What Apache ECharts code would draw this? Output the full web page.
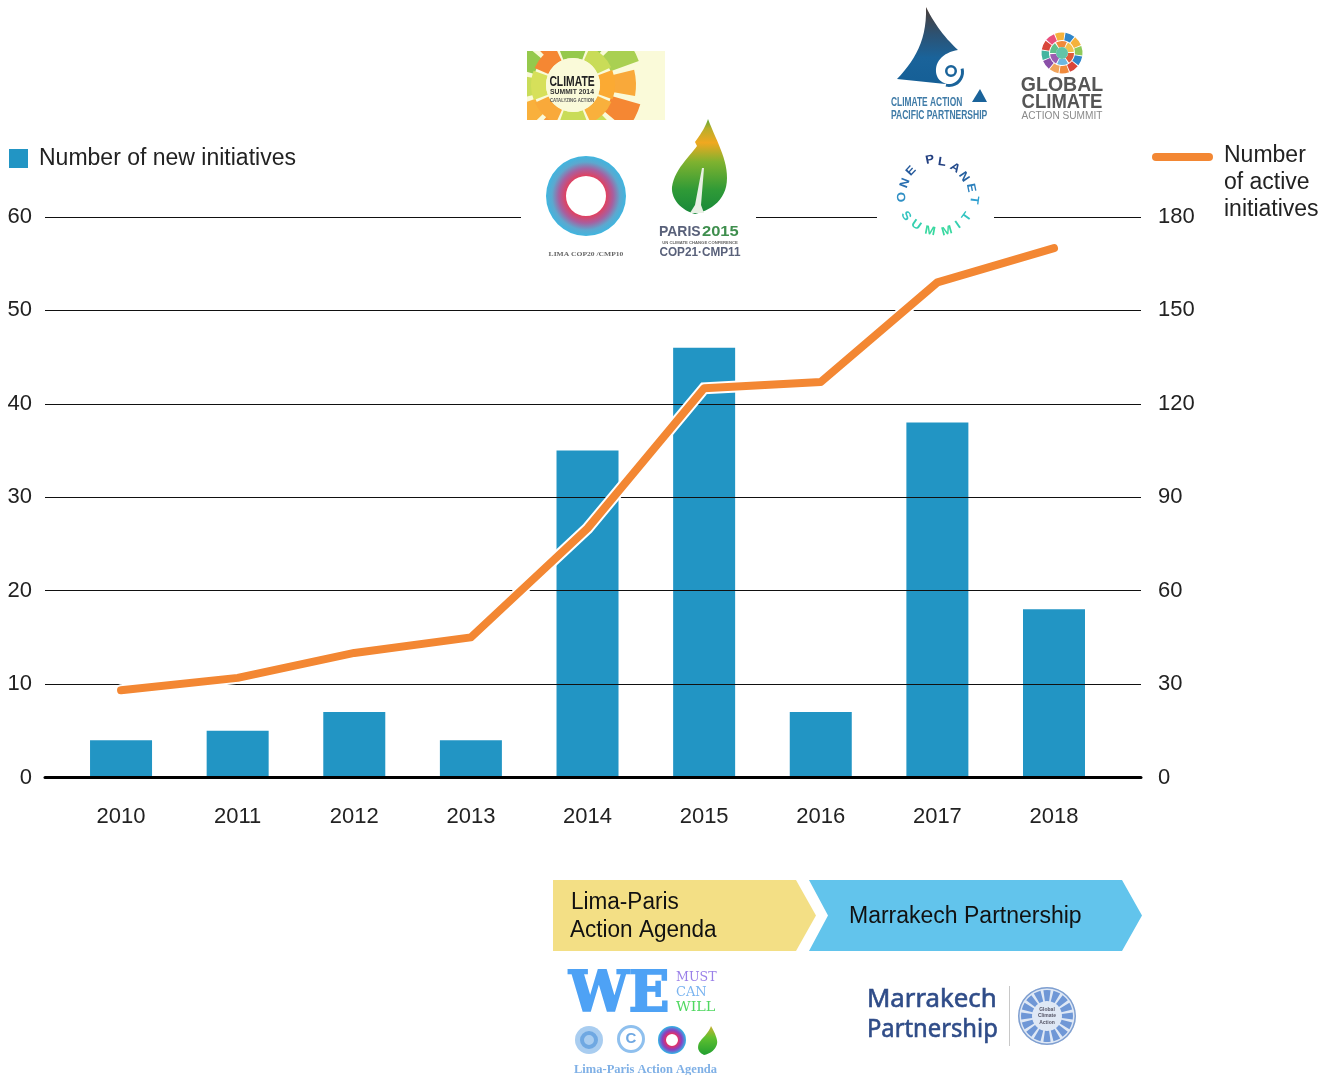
<!DOCTYPE html>
<html>
<head>
<meta charset="utf-8">
<style>
html, body { margin: 0; padding: 0; background: #fff; }
#main { width: 1323px; height: 1075px; }
</style>
<script src="https://cdn.jsdelivr.net/npm/echarts@6/dist/echarts.min.js"></script>
</head>
<body>
<div id="main"></div>
<script>
var years = [2010, 2011, 2012, 2013, 2014, 2015, 2016, 2017, 2018];
var newInitiatives = [4, 5, 7, 4, 35, 46, 7, 38, 18];
var activeInitiatives = [28, 32, 40, 45, 80, 125, 127, 159, 170];

var barName = 'Number of new initiatives';
var lineName = 'Number of active initiatives';
var FONT = '"Liberation Sans", Arial, sans-serif';
var SERIF = '"Liberation Serif", serif';
var SLAB = '"DejaVu Serif", serif';

function pairs(values) {
    return values.map(function (v, i) { return [years[i], v]; });
}

// --- helpers for the logos, all of them are plain graphic elements
var logos = [];
function add(type, shape, style, extra) {
    var el = { type: type, shape: shape, style: style, silent: true, z: 10 };
    for (var k in (extra || {})) { el[k] = extra[k]; }
    logos.push(el);
}
function rect(x, y, w, h, fill, r) {
    add('rect', { x: x, y: y, width: w, height: h, r: r || 0 }, { fill: fill });
}
function poly(points, fill, extra) {
    add('polygon', { points: points }, { fill: fill }, extra);
}
function txt(s, x, y, font, fill, align, scaleX, rotation) {
    logos.push({
        type: 'text', x: x, y: y, scaleX: scaleX || 1, scaleY: 1, rotation: rotation || 0,
        silent: true, z: 10,
        style: {
            text: s, font: font, fill: fill,
            align: align || 'center', verticalAlign: 'middle',
            textAlign: align || 'center', textVerticalAlign: 'middle'
        }
    });
}
// fattens the text that was added last
function thicken(color, width) {
    var st = logos[logos.length - 1].style;
    st.stroke = color;
    st.lineWidth = width;
}
function sector(cx, cy, r0, r, a0, a1, fill) {
    add('sector', {
        cx: cx, cy: cy, r0: r0, r: r,
        startAngle: a0 * Math.PI / 180, endAngle: a1 * Math.PI / 180, clockwise: true
    }, { fill: fill });
}
function ring(cx, cy, r0, r, fill) {
    add('ring', { cx: cx, cy: cy, r0: r0, r: r }, { fill: fill });
}
function circle(cx, cy, r, fill) {
    add('circle', { cx: cx, cy: cy, r: r }, { fill: fill });
}
// samples cubic segments into polygon points: start, then [c1x,c1y,c2x,c2y,x,y] ...
function curve(start, segs) {
    var pts = [start], p = start;
    segs.forEach(function (s) {
        if (s.length === 2) { pts.push(s); p = s; return; }
        for (var i = 1; i <= 14; i++) {
            var t = i / 14, u = 1 - t;
            pts.push([
                u * u * u * p[0] + 3 * u * u * t * s[0] + 3 * u * t * t * s[2] + t * t * t * s[4],
                u * u * u * p[1] + 3 * u * u * t * s[1] + 3 * u * t * t * s[3] + t * t * t * s[5]
            ]);
        }
        p = [s[4], s[5]];
    });
    return pts;
}
function vgrad(stops) {
    return new echarts.graphic.LinearGradient(0, 0, 0, 1, stops.map(function (s) {
        return { offset: s[0], color: s[1] };
    }));
}

// gaps in the top grid line behind the logos
rect(521, 213, 235, 8, '#fff');
rect(877, 213, 117, 8, '#fff');

// Climate Summit 2014
rect(527, 51, 138, 69, '#fafad9');
var csOuter = ['#f9a93a', '#f58733', '#c9dc58', '#a9d052', '#f79a3a', '#f9b03c', '#c9dc58', '#95c94c', '#f58733', '#d6e05a', '#95c94c', '#a9d052'];
csOuter.forEach(function (c, i) {
    sector(573, 85, 40, i % 2 ? 70 : 63, i * 30 - 14, i * 30 + 10, c);
});
var csInner = ['#fbaa33', '#f9b03c', '#c9dc58', '#f9a93a', '#d6e05a', '#f58733', '#95c94c', '#c9dc58'];
csInner.forEach(function (c, i) {
    sector(573, 85, 27, 42, i * 45 - 21, i * 45 + 20, c);
});
circle(573, 85, 27, '#fafad9');
rect(480, 0, 47, 175, '#fff');
rect(480, 0, 230, 51, '#fff');
rect(480, 120, 230, 40, '#fff');
txt('CLIMATE', 572, 82, 'bold 15px ' + FONT, '#222', 'center', 0.69);
txt('SUMMIT 2014', 572, 92, 'bold 8px ' + FONT, '#333', 'center', 0.85);
txt('CATALYZING ACTION', 572, 101, 'bold 4.5px ' + FONT, '#555', 'center', 0.95);

// Lima COP20
add('ring', { cx: 586, cy: 196, r0: 20, r: 40 }, {
    fill: new echarts.graphic.RadialGradient(0.5, 0.5, 0.5, [
        { offset: 0.5, color: '#e2405f' },
        { offset: 0.68, color: '#a85f9f' },
        { offset: 0.85, color: '#5ca8cf' },
        { offset: 1, color: '#3fb6e0' }
    ])
});
txt('LIMA COP20 /CMP10', 586, 254, 'bold 7px ' + SERIF, '#666', 'center', 1.08);

// Paris 2015 leaf
poly(curve([708, 119], [
    [716, 140, 727, 158, 727, 178],
    [727, 199, 712, 210, 695, 214],
    [680, 210, 671, 198, 672, 187],
    [674, 170, 690, 156, 697, 146],
    [695, 142],
    [700, 135, 705, 128, 708, 119]
]), vgrad([[0, '#5aa838'], [0.1, '#b8ae2a'], [0.25, '#f0a820'], [0.45, '#7fb22f'], [0.75, '#2f9a37'], [1, '#17883a']]));
poly([[702, 168], [704, 168], [701, 205], [704, 213], [690, 213], [695, 205]], '#e8f0e4');
txt('PARIS', 659, 232, 'bold 15px ' + FONT, '#59617a', 'left', 0.93);
txt('2015', 702, 232, 'bold 15px ' + FONT, '#3f8f4e', 'left', 1.1);
txt('UN CLIMATE CHANGE CONFERENCE', 700, 243, 'bold 4px ' + FONT, '#666', 'center', 1.05);
txt('COP21\u00b7CMP11', 700, 253, 'bold 12px ' + FONT, '#59617a', 'center', 0.98);

// Climate Action Pacific Partnership
poly(curve([926, 7], [
    [935, 25, 945, 38, 958, 50],
    [945, 52, 935, 60, 936, 72],
    [937, 82, 946, 85, 955, 85],
    [897, 79],
    [915, 60, 927, 40, 926, 7]
]), vgrad([[0, '#4a3d38'], [0.35, '#2c5273'], [0.65, '#1a639a'], [1, '#155f96']]));
add('arc', { cx: 949, cy: 72, r: 13.5, startAngle: -0.25, endAngle: 1.8, clockwise: true },
    { stroke: '#1a639a', lineWidth: 3, fill: null });
ring(951, 71, 3.5, 6, '#1a639a');
poly([[980, 89], [987, 102], [972, 102]], '#1a639a');
txt('CLIMATE ACTION', 891, 103, 'bold 12px ' + FONT, '#3f7ba7', 'left', 0.7);
txt('PACIFIC PARTNERSHIP', 891, 116, 'bold 12px ' + FONT, '#3f7ba7', 'left', 0.71);

// Global Climate Action Summit
var globeOut = ['#2f86c9', '#f4b23c', '#8fc95a', '#2f86c9', '#d8463a', '#f08a3c', '#f0a45c', '#8a4fa8', '#43b5a0', '#d8463a', '#e94f7c', '#f4b23c'];
globeOut.forEach(function (c, i) {
    sector(1062, 53, 13, 20.5, i * 30 - 80, i * 30 - 53, c);
});
var globeIn = ['#f4c14c', '#e05a3a', '#6cb7e0', '#9b5db0', '#5fc08a', '#f08a3c'];
globeIn.forEach(function (c, i) {
    sector(1062, 53, 6, 12, i * 60 - 60, i * 60 - 6, c);
});
circle(1062, 53, 6, '#62c4a8');
txt('GLOBAL', 1062, 85, 'bold 21px ' + FONT, '#555', 'center', 0.93);
txt('CLIMATE', 1062, 102, 'bold 21px ' + FONT, '#555', 'center', 0.88);
txt('ACTION SUMMIT', 1062, 116, '11px ' + FONT, '#8a8a8a', 'center', 0.92);

// One Planet Summit, letters set round a circle
var planetLetters = [
    ['O', 902, 197, '#2f8fc4'], ['N', 905, 183, '#2a6fb0'], ['E', 911, 171, '#265a9c'],
    ['P', 930, 160, '#223f80'], ['L', 942, 162, '#223f80'], ['A', 955, 168, '#234a8c'],
    ['N', 964, 177, '#25609f'], ['E', 971, 188, '#2a7fbc'], ['T', 974, 200, '#2f9fd0'],
    ['S', 906, 216, '#33c4c0'], ['U', 916, 225, '#35d0b0'], ['M', 930, 231, '#38d8a0'],
    ['M', 947, 231, '#38d8a0'], ['I', 958, 225, '#35d0b0'], ['T', 967, 217, '#33c4c0']
];
planetLetters.forEach(function (l) {
    var a = Math.atan2(l[2] - 195, l[1] - 937);
    // top letters read outward, bottom letters read inward
    var rot = l[2] > 205 ? -(a - Math.PI / 2) : -(a + Math.PI / 2);
    txt(l[0], l[1], l[2], 'bold 12px ' + FONT, l[3], 'center', 1.1, rot);
});

// lower arrows
poly([[553, 880], [796, 880], [816, 915.5], [796, 951], [553, 951]], '#f3df85');
poly([[809, 880], [1122, 880], [1142, 915.5], [1122, 951], [809, 951], [828, 915.5]], '#62c4ec');
txt('Lima-Paris', 571, 903, '23px ' + FONT, '#111', 'left', 0.98);
txt('Action Agenda', 570, 931, '23px ' + FONT, '#111', 'left', 0.98);
txt('Marrakech Partnership', 849, 917, '23px ' + FONT, '#111', 'left');

// We must / can / will logo
txt('WE', 569, 996, 'bold 56px ' + SLAB, '#4ea2f5', 'left', 0.95);
thicken('#4ea2f5', 2);
txt('MUST', 676, 978, '13px ' + SLAB, '#9a80e8', 'left', 0.97);
txt('CAN', 676, 993, '13px ' + SLAB, '#7ab4f0', 'left', 1.0);
txt('WILL', 676, 1008, '13px ' + SLAB, '#4fd860', 'left', 1.1);
circle(589, 1040, 14, '#a9cdf0');
ring(589, 1040, 5, 9, '#6fa8e2');
ring(631, 1039, 11, 14, '#8fc0ee');
txt('C', 631, 1039, 'bold 15px ' + FONT, '#6fa8e2', 'center');
add('ring', { cx: 672, cy: 1040, r0: 6, r: 14 }, {
    fill: new echarts.graphic.RadialGradient(0.5, 0.5, 0.5, [
        { offset: 0.45, color: '#e0306a' },
        { offset: 0.7, color: '#8a40c0' },
        { offset: 1, color: '#30b8e8' }
    ])
});
poly(curve([711, 1026], [
    [715, 1033, 718, 1040, 717, 1044],
    [715, 1051, 709, 1054, 704, 1055],
    [698, 1052, 697, 1048, 699, 1043],
    [702, 1038, 708, 1034, 711, 1026]
]), vgrad([[0, '#c8b030'], [0.4, '#60c030'], [1, '#22a030']]));
txt('Lima-Paris Action Agenda', 574, 1070, 'bold 12.5px ' + SERIF, '#7fb0e6', 'left', 1.0);

// Marrakech Partnership logo
txt('Marrakech', 867, 1000, '25px "Noto Sans", sans-serif', '#2f4c88', 'left', 1.03);
thicken('#2f4c88', 0.6);
txt('Partnership', 867, 1030, '25px "Noto Sans", sans-serif', '#2f4c88', 'left', 0.95);
thicken('#2f4c88', 0.6);
rect(1009, 986, 1, 60, '#c8c8c8');
circle(1047, 1016, 29, '#dfe8f5');
ring(1047, 1016, 27.5, 29, '#7f9fd0');
for (var i = 0; i < 16; i++) {
    sector(1047, 1016, 15, 26, i * 22.5 - 8, i * 22.5 + 8, '#6f97d6');
}
txt('Global', 1047, 1010, 'bold 5px ' + FONT, '#556', 'center');
txt('Climate', 1047, 1016, 'bold 5px ' + FONT, '#556', 'center');
txt('Action', 1047, 1023, 'bold 5px ' + FONT, '#556', 'center');

// legend for the line, its label wraps beside the stroke
rect(1152, 153, 61, 8, '#f38733', 4);
txt('Number', 1224, 156, '23px ' + FONT, '#222', 'left');
txt('of active', 1224, 183, '23px ' + FONT, '#222', 'left');
txt('initiatives', 1224, 210, '23px ' + FONT, '#222', 'left');

var myChart = echarts.init(document.getElementById('main'), null, { renderer: 'canvas' });
var option = {
    animation: false,
    backgroundColor: '#fff',
    textStyle: { fontFamily: FONT },
    legend: {
        left: 9,
        top: 147,
        padding: 0,
        icon: 'rect',
        itemWidth: 19,
        itemHeight: 19,
        selectedMode: false,
        data: [barName],
        textStyle: { fontSize: 23, color: '#222', fontFamily: FONT, padding: [0, 0, 0, 6] }
    },
    grid: { left: 45, right: 182, top: 217, height: 560.5 },
    xAxis: {
        type: 'value',
        min: 2009.348,
        max: 2018.746,
        z: 3,
        splitLine: { show: false },
        axisTick: { show: false },
        axisLine: { show: true, onZero: false, lineStyle: { color: '#000', width: 3 } },
        axisLabel: {
            customValues: years,
            margin: 28,
            fontSize: 22,
            color: '#222',
            fontFamily: FONT,
            formatter: function (v) { return String(v); }
        }
    },
    yAxis: [
        {
            type: 'value',
            min: 0,
            max: 60,
            interval: 10,
            z: 3,
            axisLine: { show: false },
            axisTick: { show: false },
            splitLine: { show: true, lineStyle: { color: '#111', width: 1 } },
            axisLabel: { margin: 13, fontSize: 22, color: '#222', fontFamily: FONT }
        },
        {
            type: 'value',
            position: 'right',
            min: 0,
            max: 180,
            interval: 30,
            axisLine: { show: false },
            axisTick: { show: false },
            splitLine: { show: false },
            axisLabel: { margin: 17, fontSize: 22, color: '#222', fontFamily: FONT }
        }
    ],
    series: [
        {
            name: barName,
            type: 'bar',
            barWidth: 62,
            z: 2,
            itemStyle: { color: '#2295c4' },
            data: pairs(newInitiatives)
        },
        {
            name: lineName + ' outline',
            type: 'line',
            yAxisIndex: 1,
            z: 4,
            symbol: 'none',
            silent: true,
            lineStyle: { color: '#fff', width: 12, cap: 'round', join: 'miter' },
            data: pairs(activeInitiatives)
        },
        {
            name: lineName,
            type: 'line',
            yAxisIndex: 1,
            z: 5,
            symbol: 'none',
            lineStyle: { color: '#f38733', width: 8, cap: 'round', join: 'round' },
            itemStyle: { color: '#f38733' },
            data: pairs(activeInitiatives)
        }
    ],
    graphic: { elements: logos }
};
myChart.setOption(option);
</script>
</body>
</html>
